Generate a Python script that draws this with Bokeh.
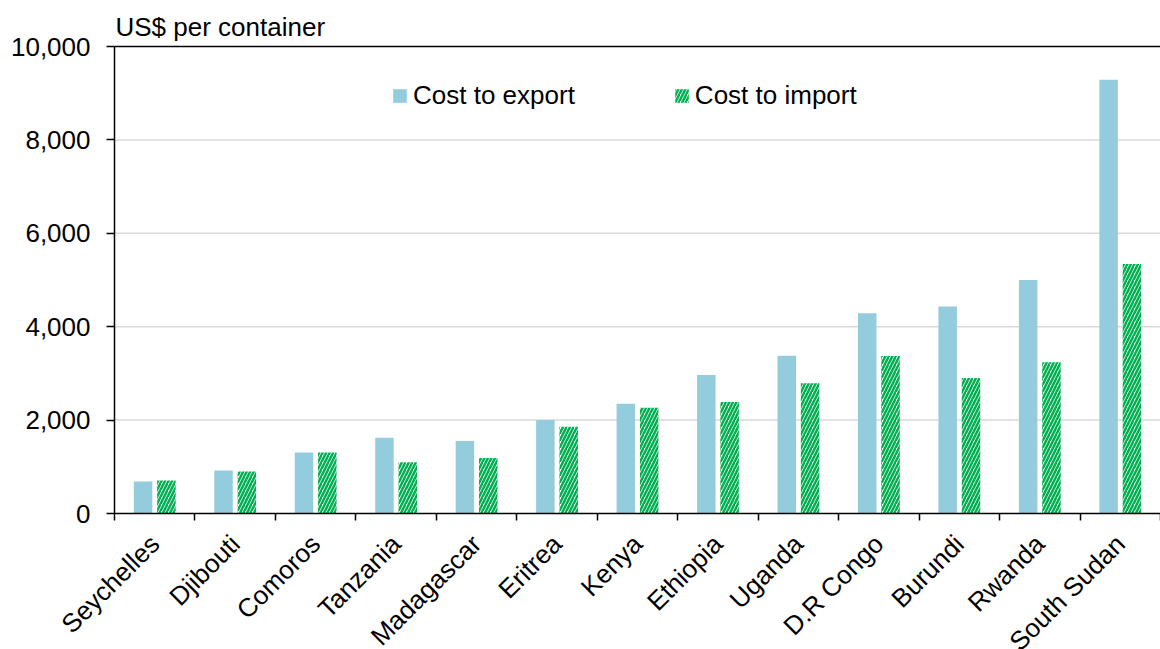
from bokeh.plotting import figure
from bokeh.models import (ColumnDataSource, FixedTicker, NumeralTickFormatter,
                          Legend, LegendItem, Range1d, Label)
from bokeh.embed import file_html
from bokeh.resources import INLINE
import math

countries = ["Seychelles", "Djibouti", "Comoros", "Tanzania", "Madagascar", "Eritrea",
             "Kenya", "Ethiopia", "Uganda", "D.R Congo", "Burundi", "Rwanda", "South Sudan"]
cost_export = [685, 920, 1305, 1620, 1550, 2000, 2350, 2965, 3380, 4290, 4430, 5000, 9290]
cost_import = [705, 900, 1305, 1100, 1190, 1855, 2265, 2385, 2790, 3370, 2900, 3240, 5340]
y_ticks = [0, 2000, 4000, 6000, 8000, 10000]

FONT = "Liberation Sans"
FS = "26px"

W, H = 1160, 649
LEFT_PX = 114       # px left of the plotting area
TOP_PX = 46         # px above the 10,000 line
PLOT_PX = 467       # px between 0 and 10,000
BOTTOM_PX = H - TOP_PX - PLOT_PX
Y_MAX = 10000
N = len(countries)
y_per_px = Y_MAX / PLOT_PX
x_per_px = N / (W - LEFT_PX)

centers = [i + 0.5 for i in range(N)]
bounds = list(range(N + 1))

src = ColumnDataSource(dict(
    xe=[c - 0.145 for c in centers],
    xi=[c + 0.145 for c in centers],
    exp=cost_export,
    imp=cost_import,
))

p = figure(width=W, height=H, output_backend="svg", toolbar_location=None,
           x_range=Range1d(-LEFT_PX * x_per_px, N),
           y_range=Range1d(-BOTTOM_PX * y_per_px, Y_MAX + TOP_PX * y_per_px),
           min_border_left=0, min_border_right=0, min_border_top=0,
           min_border_bottom=0)
p.outline_line_color = None
p.background_fill_color = "white"
p.xgrid.visible = False
p.ygrid.visible = False

# horizontal gridlines (light grey) and the black top border, limited to the plot area
grid_y = y_ticks[1:-1]
p.segment(x0=[0] * len(grid_y), x1=[N] * len(grid_y), y0=grid_y, y1=grid_y,
          line_color="#D9D9D9", line_width=1.5)
p.segment(x0=[0], x1=[N], y0=[Y_MAX], y1=[Y_MAX], line_color="black", line_width=1.5)

r_exp = p.vbar(x="xe", top="exp", width=0.23, source=src,
               fill_color="#93CDDD", line_color=None)
r_imp = p.vbar(x="xi", top="imp", width=0.23, source=src,
               fill_color="white", line_color=None,
               hatch_pattern="/", hatch_color="#00B050", hatch_scale=7, hatch_weight=2.5)

# y axis drawn at x = 0
p.yaxis.fixed_location = 0
p.yaxis.bounds = (0, Y_MAX)
p.yaxis.ticker = FixedTicker(ticks=y_ticks)
p.yaxis.formatter = NumeralTickFormatter(format="0,0")
p.yaxis.major_tick_in = 0
p.yaxis.major_tick_out = 8
p.yaxis.minor_tick_line_color = None
p.yaxis.axis_line_color = "black"
p.yaxis.axis_line_width = 1.5
p.yaxis.major_tick_line_width = 1.5
p.yaxis.major_label_text_font = FONT
p.yaxis.major_label_text_font_size = FS
p.yaxis.major_label_text_color = "black"
p.yaxis.major_label_standoff = 16

# x axis drawn at y = 0, ticks at category boundaries, labels at centres
p.xaxis.fixed_location = 0
p.xaxis.bounds = (0, N)
p.xaxis.ticker = FixedTicker(ticks=centers, minor_ticks=bounds)
p.xaxis.major_label_overrides = {c: n for c, n in zip(centers, countries)}
p.xaxis.major_tick_line_color = None
p.xaxis.major_tick_in = 0
p.xaxis.major_tick_out = 7
p.xaxis.minor_tick_in = 0
p.xaxis.minor_tick_out = 7
p.xaxis.minor_tick_line_color = "black"
p.xaxis.minor_tick_line_width = 1.5
p.xaxis.axis_line_color = "black"
p.xaxis.axis_line_width = 1.5
p.xaxis.major_label_orientation = math.pi / 4
p.xaxis.major_label_text_font = FONT
p.xaxis.major_label_text_font_size = FS
p.xaxis.major_label_text_color = "black"
p.xaxis.major_label_standoff = 19

# axis title above the plotting area
p.add_layout(Label(x=0, y=Y_MAX, text="US$ per container", x_offset=1, y_offset=5,
                   text_align="left", text_baseline="bottom",
                   text_font=FONT, text_font_size=FS, text_color="black"))

legend = Legend(items=[LegendItem(label="Cost to export", renderers=[r_exp]),
                       LegendItem(label="Cost to import", renderers=[r_imp])],
                location=(277 + LEFT_PX, 402 + BOTTOM_PX), orientation="horizontal")
legend.border_line_color = None
legend.background_fill_alpha = 0
legend.padding = 0
legend.margin = 0
legend.spacing = 98
legend.label_standoff = 5
legend.glyph_width = 17
legend.glyph_height = 17
legend.label_text_font = FONT
legend.label_text_font_size = FS
legend.label_text_color = "black"
p.add_layout(legend)

open("out.html", "w").write(file_html(p, INLINE))
